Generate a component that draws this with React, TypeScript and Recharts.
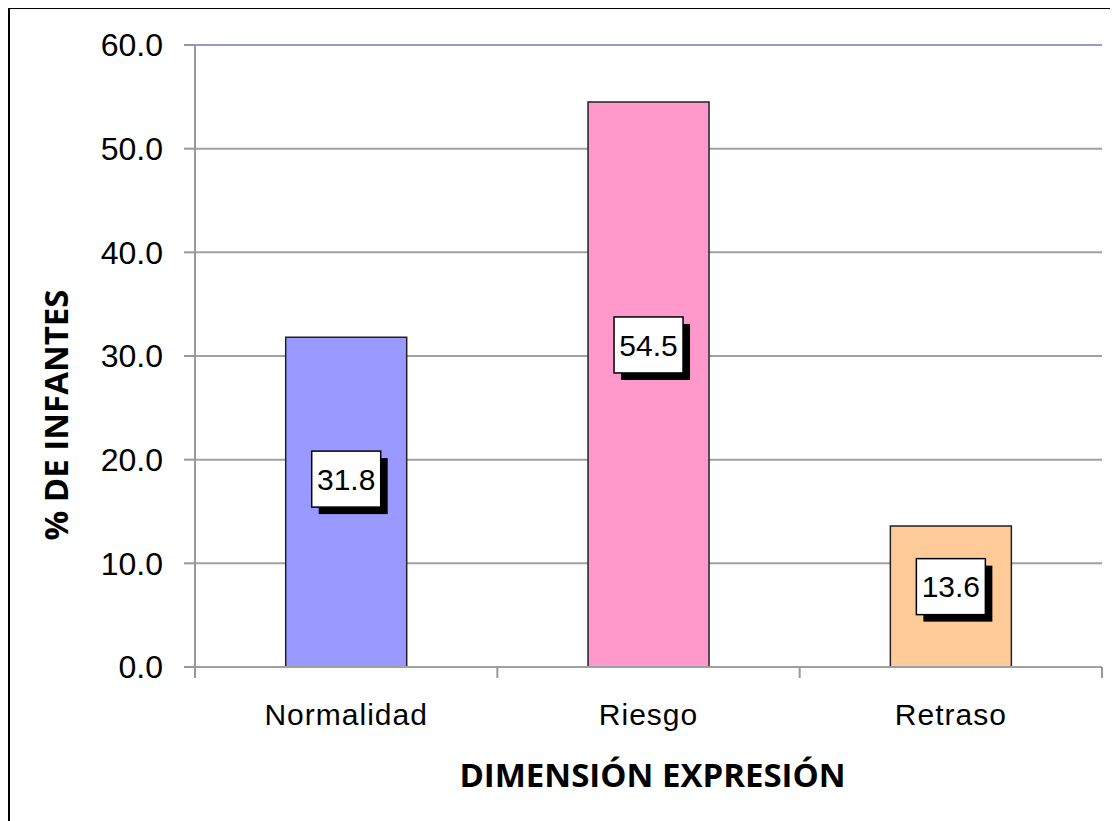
import { BarChart, Bar, XAxis, YAxis, CartesianGrid, Cell, LabelList, ReferenceLine } from 'recharts';

const categories = ['Normalidad', 'Riesgo', 'Retraso'];
const values = [31.8, 54.5, 13.6];
const yTicks = [0, 10, 20, 30, 40, 50, 60];

const COLORS = ['#9999FF', '#FF99CC', '#FFCC99'];

const CHART_W = 1110;
const CHART_H = 800;
const MARGIN = { top: 37, right: 16, left: 0, bottom: 0 };
const Y_AXIS_W = 187;
const PLOT_W = CHART_W - MARGIN.left - MARGIN.right - Y_AXIS_W;
const BAND = PLOT_W / categories.length;

const data = categories.map((name, i) => ({ name, value: values[i] }));

const XTick = (props: any) => {
  const { x, y, payload, index } = props;
  const half = BAND / 2;
  return (
    <g>
      <line x1={x - half} y1={y} x2={x - half} y2={y + 11} stroke="#999" strokeWidth={2} />
      {index === categories.length - 1 && (
        <line x1={x + half} y1={y} x2={x + half} y2={y + 11} stroke="#999" strokeWidth={2} />
      )}
      <text
        x={x}
        y={y + 58}
        textAnchor="middle"
        fontFamily="'Liberation Sans', Arial, sans-serif"
        fontSize={30}
        letterSpacing={1}
        fill="#000"
      >
        {payload.value}
      </text>
    </g>
  );
};

const ValueBox = (props: any) => {
  const { x, y, width, height, value } = props;
  const w = 69;
  const h = 56;
  const cx = x + width / 2;
  const cy = y + height * 0.43;
  return (
    <g>
      <rect x={cx - w / 2 + 7} y={cy - h / 2 + 7} width={w} height={h} fill="#000" />
      <rect x={cx - w / 2} y={cy - h / 2} width={w} height={h} fill="#fff" stroke="#000" strokeWidth={1.5} />
      <text
        x={cx}
        y={cy}
        dy="0.36em"
        textAnchor="middle"
        fontFamily="'Liberation Sans', Arial, sans-serif"
        fontSize={30}
        fill="#000"
      >
        {Number(value).toFixed(1)}
      </text>
    </g>
  );
};

const YTitle = (props: any) => {
  const vb = props.viewBox;
  const x = vb.x + 47;
  const y = vb.y + vb.height / 2 + 59;
  return (
    <text
      x={x}
      y={y}
      transform={`rotate(-90, ${x}, ${y})`}
      textAnchor="middle"
      dominantBaseline="central"
      fontFamily="'Open Sans', sans-serif"
      fontWeight="bold"
      fontSize={33}
      fill="#000"
    >
      % DE INFANTES
    </text>
  );
};

const XTitle = (props: any) => {
  const vb = props.viewBox;
  return (
    <text
      x={vb.x + vb.width / 2 + 4}
      y={vb.y + 120}
      textAnchor="middle"
      fontFamily="'Open Sans', sans-serif"
      fontWeight="bold"
      fontSize={33}
      fill="#000"
    >
      DIMENSIÓN EXPRESIÓN
    </text>
  );
};

export default function App() {
  return (
    <div style={{ position: 'relative', width: CHART_W, height: 813 }}>
      <style>{'html, body { overflow: hidden; }'}</style>
      <div
        style={{
          position: 'absolute',
          left: 0,
          top: -1,
          width: CHART_W,
          height: 814,
          borderTop: '2px solid #000',
          borderLeft: '2px solid #000',
          boxSizing: 'border-box',
        }}
      />
      <div style={{ position: 'absolute', left: 0, top: 0 }}>
        <BarChart width={CHART_W} height={CHART_H} data={data} margin={MARGIN} barCategoryGap="30%">
          <CartesianGrid yAxisId="left" vertical={false} stroke="#a0a0a0" strokeWidth={2} />
          <XAxis
            dataKey="name"
            yAxisId="left"
            height={CHART_H - MARGIN.top - 622}
            tickLine={false}
            tickSize={0}
            tickMargin={0}
            axisLine={{ stroke: '#a0a0a0', strokeWidth: 2 }}
            tick={<XTick />}
            interval={0}
            label={{ content: <XTitle /> }}
          />
          <YAxis
            yAxisId="left"
            width={Y_AXIS_W}
            domain={[0, 60]}
            ticks={yTicks}
            tickFormatter={(v: number) => v.toFixed(1)}
            tickSize={11}
            tickMargin={21}
            tickLine={{ stroke: '#999', strokeWidth: 2 }}
            axisLine={{ stroke: '#999', strokeWidth: 2 }}
            tick={{ fill: '#000', fontSize: 32, fontFamily: "'Liberation Sans', Arial, sans-serif" }}
            label={{ content: <YTitle /> }}
          />
          <YAxis
            yAxisId="right"
            orientation="right"
            width={0}
            domain={[0, 60]}
            tick={false}
            tickLine={false}
            axisLine={{ stroke: '#9999cc', strokeWidth: 2 }}
          />
          <ReferenceLine yAxisId="left" y={60} stroke="#9999cc" strokeWidth={2} />
          <Bar yAxisId="left" dataKey="value" stroke="#222" strokeWidth={1.5} isAnimationActive={false}>
            {data.map((d, i) => (
              <Cell key={d.name} fill={COLORS[i]} />
            ))}
            <LabelList dataKey="value" content={<ValueBox />} />
          </Bar>
        </BarChart>
      </div>
    </div>
  );
}
